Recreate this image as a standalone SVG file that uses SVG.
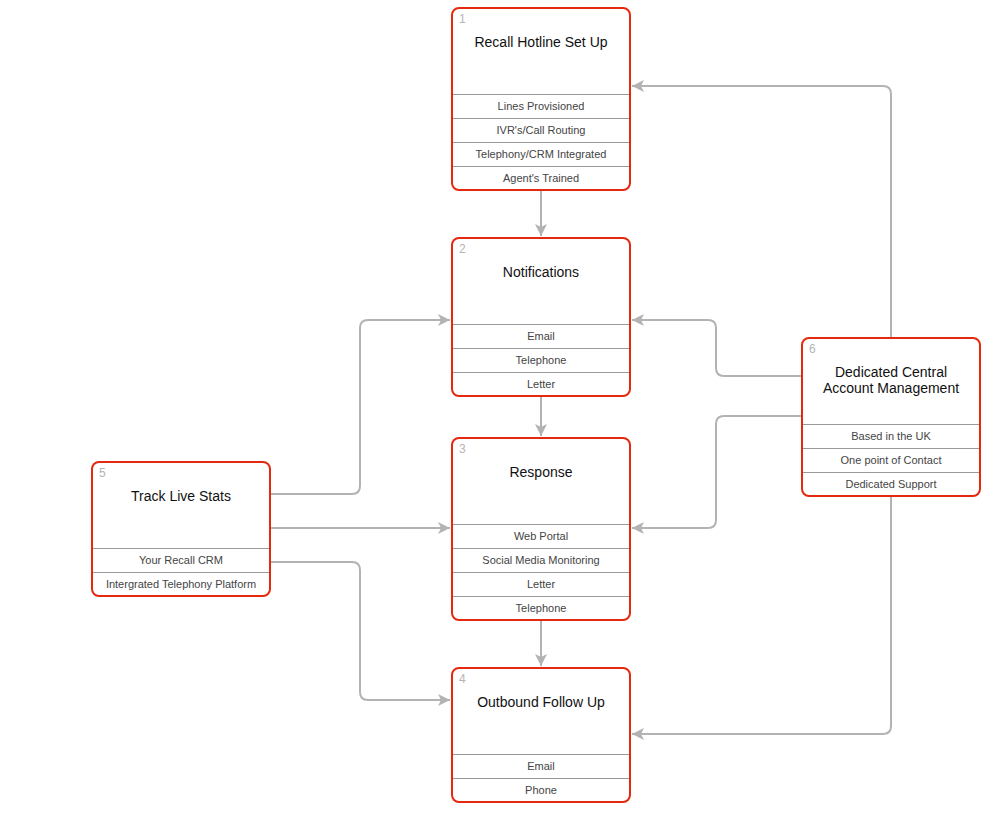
<svg xmlns="http://www.w3.org/2000/svg" width="999" height="818" viewBox="0 0 999 818">
<style>
.box{fill:#fff;stroke:#e5290f;stroke-width:2}
.div{stroke:#999;stroke-width:1}
.num{font-family:"Liberation Sans",Arial,sans-serif;font-size:12px;fill:#b4b4b4}
.title{font-family:"Liberation Sans",Arial,sans-serif;font-size:14px;fill:#111;text-anchor:middle}
.item{font-family:"Liberation Sans",Arial,sans-serif;font-size:11px;fill:#444;text-anchor:middle}
.conn{fill:none;stroke:#b3b3b3;stroke-width:2}
</style>
<defs>
<marker id="arr" markerUnits="userSpaceOnUse" markerWidth="13" markerHeight="13" refX="12" refY="6" orient="auto" viewBox="0 0 13 12">
<path d="M0,0 L12,6 L0,12 L3,6 Z" fill="#b3b3b3"/>
</marker>
</defs>
<rect width="999" height="818" fill="#fff"/>
<g id="connectors">
<path class="conn" marker-end="url(#arr)" d="M541,190 V236"/>
<path class="conn" marker-end="url(#arr)" d="M541,396 V436"/>
<path class="conn" marker-end="url(#arr)" d="M541,620 V666"/>
<path class="conn" marker-end="url(#arr)" d="M891,338 V94 Q891,86 883,86 H632"/>
<path class="conn" marker-end="url(#arr)" d="M802,376 H724 Q716,376 716,368 V328 Q716,320 708,320 H632"/>
<path class="conn" marker-end="url(#arr)" d="M802,416 H724 Q716,416 716,424 V520 Q716,528 708,528 H632"/>
<path class="conn" marker-end="url(#arr)" d="M891,496 V726 Q891,734 883,734 H632"/>
<path class="conn" marker-end="url(#arr)" d="M270,494 H352 Q360,494 360,486 V328 Q360,320 368,320 H450"/>
<path class="conn" marker-end="url(#arr)" d="M270,528 H450"/>
<path class="conn" marker-end="url(#arr)" d="M270,562 H352 Q360,562 360,570 V692 Q360,700 368,700 H450"/>
</g>
<g id="node1">
<rect class="box" x="452" y="8" width="178" height="182" rx="7"/>
<line class="div" x1="453" y1="94.5" x2="629" y2="94.5"/>
<line class="div" x1="453" y1="118.5" x2="629" y2="118.5"/>
<line class="div" x1="453" y1="142.5" x2="629" y2="142.5"/>
<line class="div" x1="453" y1="166.5" x2="629" y2="166.5"/>
<text class="num" x="459" y="23">1</text>
<text class="title" x="541" y="47">Recall Hotline Set Up</text>
<text class="item" x="541" y="110">Lines Provisioned</text>
<text class="item" x="541" y="134">IVR's/Call Routing</text>
<text class="item" x="541" y="158">Telephony/CRM Integrated</text>
<text class="item" x="541" y="182">Agent's Trained</text>
</g>
<g id="node2">
<rect class="box" x="452" y="238" width="178" height="158" rx="7"/>
<line class="div" x1="453" y1="324.5" x2="629" y2="324.5"/>
<line class="div" x1="453" y1="348.5" x2="629" y2="348.5"/>
<line class="div" x1="453" y1="372.5" x2="629" y2="372.5"/>
<text class="num" x="459" y="253">2</text>
<text class="title" x="541" y="277">Notifications</text>
<text class="item" x="541" y="340">Email</text>
<text class="item" x="541" y="364">Telephone</text>
<text class="item" x="541" y="388">Letter</text>
</g>
<g id="node3">
<rect class="box" x="452" y="438" width="178" height="182" rx="7"/>
<line class="div" x1="453" y1="524.5" x2="629" y2="524.5"/>
<line class="div" x1="453" y1="548.5" x2="629" y2="548.5"/>
<line class="div" x1="453" y1="572.5" x2="629" y2="572.5"/>
<line class="div" x1="453" y1="596.5" x2="629" y2="596.5"/>
<text class="num" x="459" y="453">3</text>
<text class="title" x="541" y="477">Response</text>
<text class="item" x="541" y="540">Web Portal</text>
<text class="item" x="541" y="564">Social Media Monitoring</text>
<text class="item" x="541" y="588">Letter</text>
<text class="item" x="541" y="612">Telephone</text>
</g>
<g id="node4">
<rect class="box" x="452" y="668" width="178" height="134" rx="7"/>
<line class="div" x1="453" y1="754.5" x2="629" y2="754.5"/>
<line class="div" x1="453" y1="778.5" x2="629" y2="778.5"/>
<text class="num" x="459" y="683">4</text>
<text class="title" x="541" y="707">Outbound Follow Up</text>
<text class="item" x="541" y="770">Email</text>
<text class="item" x="541" y="794">Phone</text>
</g>
<g id="node5">
<rect class="box" x="92" y="462" width="178" height="134" rx="7"/>
<line class="div" x1="93" y1="548.5" x2="269" y2="548.5"/>
<line class="div" x1="93" y1="572.5" x2="269" y2="572.5"/>
<text class="num" x="99" y="477">5</text>
<text class="title" x="181" y="501">Track Live Stats</text>
<text class="item" x="181" y="564">Your Recall CRM</text>
<text class="item" x="181" y="588">Intergrated Telephony Platform</text>
</g>
<g id="node6">
<rect class="box" x="802" y="338" width="178" height="158" rx="7"/>
<line class="div" x1="803" y1="424.5" x2="979" y2="424.5"/>
<line class="div" x1="803" y1="448.5" x2="979" y2="448.5"/>
<line class="div" x1="803" y1="472.5" x2="979" y2="472.5"/>
<text class="num" x="809" y="353">6</text>
<text class="title" x="891" y="377">Dedicated Central</text>
<text class="title" x="891" y="393">Account Management</text>
<text class="item" x="891" y="440">Based in the UK</text>
<text class="item" x="891" y="464">One point of Contact</text>
<text class="item" x="891" y="488">Dedicated Support</text>
</g>
</svg>
